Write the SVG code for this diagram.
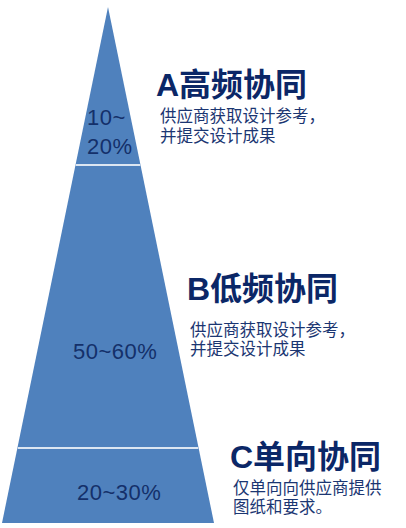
<svg xmlns="http://www.w3.org/2000/svg" width="406" height="528" viewBox="0 0 406 528">
<style>
.seg{fill:#4F81BD}
.div{stroke:#DCE6F2;stroke-width:2}
.pct{font-family:"Liberation Sans","Noto Sans CJK SC",sans-serif;font-size:22px;fill:#14306A;letter-spacing:0.5px}
.ttl{font-family:"Liberation Sans","Noto Sans CJK SC",sans-serif;font-size:32px;font-weight:bold;fill:#0B2767}
.dsc{font-family:"Noto Sans CJK SC",sans-serif;font-size:16.5px;fill:#1B3672}
</style>
<rect width="406" height="528" fill="#FFFFFF"/>
<g id="tierA">
<polygon class="seg" points="108,7 140.5,165 75.5,165"/>
<text class="pct" x="87" y="125">10~</text>
<text class="pct" x="87" y="154">20%</text>
<text class="ttl" x="156" y="96">A高频协同</text>
<text class="dsc" x="160" y="122">供应商获取设计参考，</text>
<text class="dsc" x="160" y="142">并提交设计成果</text>
</g>
<g id="tierB">
<polygon class="seg" points="75.5,165 140.5,165 198.4,447 17.6,447"/>
<text class="pct" x="73" y="359">50~60%</text>
<text class="ttl" x="187" y="300">B低频协同</text>
<text class="dsc" x="190" y="336">供应商获取设计参考，</text>
<text class="dsc" x="190" y="355">并提交设计成果</text>
</g>
<g id="tierC">
<polygon class="seg" points="17.6,447 198.4,447 214,523 2,523"/>
<text class="pct" x="77" y="500">20~30%</text>
<text class="ttl" x="230" y="468">C单向协同</text>
<text class="dsc" x="233" y="494">仅单向向供应商提供</text>
<text class="dsc" x="233" y="513">图纸和要求。</text>
</g>
<g id="connectors">
<line class="div" x1="75.7" y1="165" x2="140.3" y2="165"/>
<line class="div" x1="17.8" y1="448" x2="198.2" y2="448"/>
</g>
</svg>
